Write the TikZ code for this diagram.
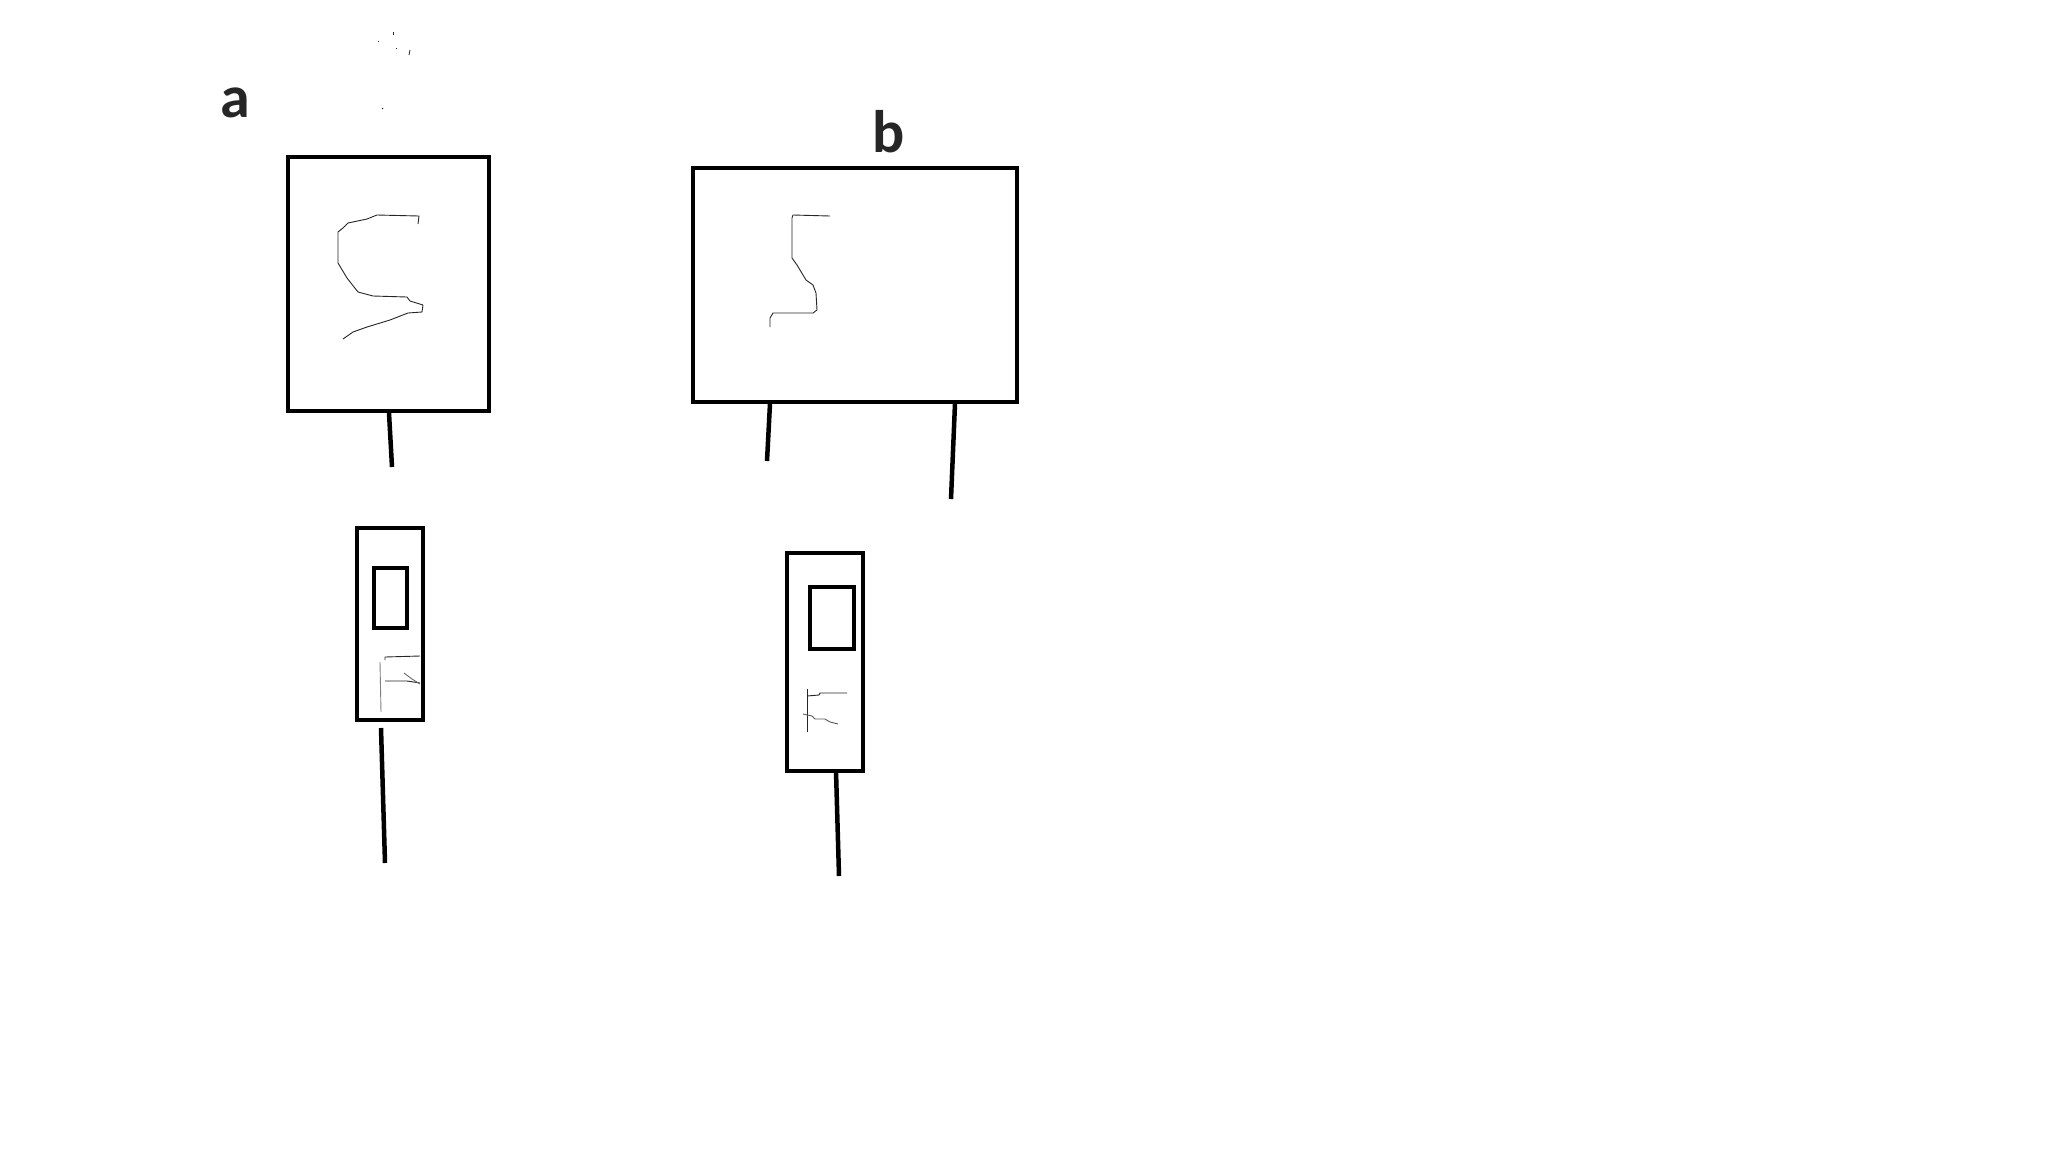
\documentclass[tikz,border=0pt]{standalone}
\usepackage{fontspec}
\setmainfont{Carlito}
\begin{document}
\begin{tikzpicture}[x=1pt,y=-1pt,
  boxline/.style={draw=black,line width=4pt,inner sep=0pt,outer sep=0pt},
  stub/.style={draw=black,line width=4.5pt},
  scribble/.style={draw=black!85,line width=0.9pt,line join=round},
  lbl/.style={font=\fontsize{60}{60}\selectfont\bfseries,text=black!85,anchor=base,inner sep=0pt}]
\useasboundingbox[fill=white] (0,0) rectangle (2048,1152);
% labels
\node[lbl] (la) at (235,117) {a};
\node[lbl] (lb) at (889,152) {b};
% big boxes
\node[boxline,minimum width=201pt,minimum height=254pt] (ba) at (388,284) {};
\node[boxline,minimum width=324pt,minimum height=234pt] (bb) at (855,284.5) {};
% small sensor boxes
\node[boxline,minimum width=66pt,minimum height=192pt] (sa) at (390,624) {};
\node[boxline,minimum width=33pt,minimum height=60pt] (ia) at (390.5,597.5) {};
\node[boxline,minimum width=76pt,minimum height=218pt] (sb) at (824.5,662) {};
\node[boxline,minimum width=44pt,minimum height=62pt] (ib) at (832,618) {};
% stub end points
\coordinate (ea) at (392,467);
\coordinate (eb1) at (767,461);
\coordinate (eb2) at (951,499);
\coordinate (esa) at (385,863);
\coordinate (esb) at (839,876);
\draw[stub] (ba.south -| 389,0) ++(0,2) -- (ea);
\draw[stub] (bb.south -| 770,0) ++(0,2) -- (eb1);
\draw[stub] (bb.south -| 955,0) ++(0,2) -- (eb2);
\draw[stub] (sa.south -| 381,0) ++(0,8) -- (esa);
\draw[stub] (sb.south) ++(11.5,0) -- (esb);
% scribble in box a
\draw[scribble] (418,224) -- (419,216) -- (377,215) -- (367,219) -- (348,223) -- (343,228) -- (338,232) -- (338,263) -- (347,278) -- (358,292) -- (373,296) -- (407,297) -- (410,301) -- (423,305) -- (422,312) -- (408,313) -- (390,320) -- (367,327) -- (353,332) -- (343,339);
% scribble in box b
\draw[scribble] (830,216) -- (793,215) -- (792,218) -- (792,258) -- (797,265) -- (806,280) -- (813,285) -- (816,293) -- (817,310) -- (813,313) -- (773,313) -- (770,318) -- (770,327);
% scribbles in small box a
\draw[scribble,draw=black!50] (380,662) -- (381,712);
\draw[scribble] (385,660) -- (385,657) -- (420,656);
\draw[scribble] (385,681) -- (407,681) -- (420,683);
\draw[scribble,draw=black!60] (404,673) -- (412,679) -- (420,684);
% scribbles in small box b
\draw[scribble] (807,689) -- (807,732);
\draw[scribble] (807,696) -- (819,695) -- (820,693) -- (847,693);
\draw[scribble,draw=black!65] (803,714) -- (812,716) -- (815,719) -- (825,719) -- (830,722) -- (838,724);
% faint specks at the top
\draw[scribble,line width=0.8pt] (393,32) -- (393,35);
\draw[scribble,line width=0.8pt] (378,41) -- (379,41);
\draw[scribble,line width=0.8pt] (396,48) -- (397,48);
\draw[scribble,line width=0.8pt] (410,50) -- (409,55);
\draw[scribble,line width=0.8pt] (382,108) -- (383,109);
\end{tikzpicture}
\end{document}
